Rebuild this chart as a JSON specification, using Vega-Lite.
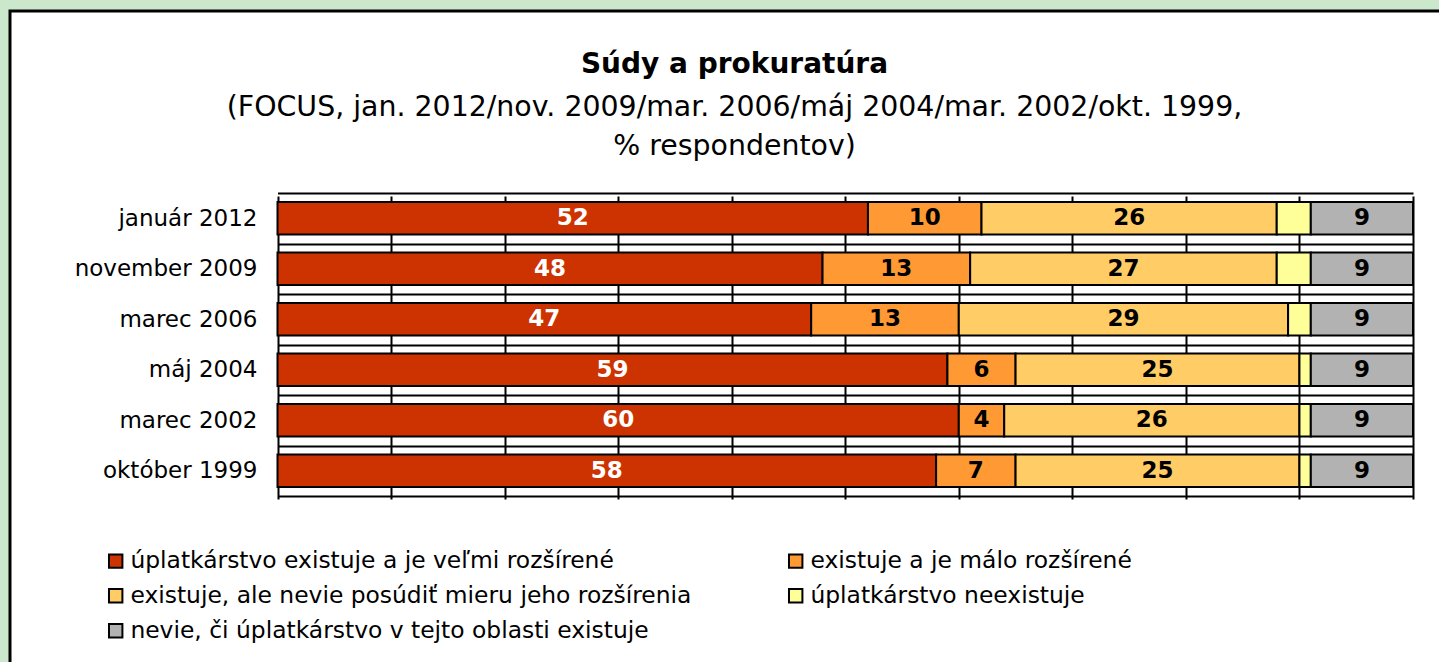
{
  "$schema": "https://vega.github.io/schema/vega-lite/v6.json",
  "width": 1449,
  "height": 670,
  "autosize": {"type": "none"},
  "padding": {"left": 10, "top": 11, "right": -20, "bottom": -19},
  "background": "#CCE8CC",
  "config": {
    "view": {"fill": "white", "stroke": "black", "strokeWidth": 3},
    "font": "DejaVu Sans"
  },
  "title": {
    "text": "Súdy a prokuratúra",
    "subtitle": ["(FOCUS, jan. 2012/nov. 2009/mar. 2006/máj 2004/mar. 2002/okt. 1999,", "% respondentov)"],
    "anchor": "middle",
    "frame": "group",
    "offset": -160,
    "font": "DejaVu Sans",
    "fontSize": 28,
    "fontWeight": "bold",
    "color": "black",
    "subtitleFont": "DejaVu Sans",
    "subtitleFontSize": 28.4,
    "subtitleColor": "black",
    "subtitleLineHeight": 39,
    "subtitlePadding": 15
  },
  "data": {
    "values": [
      {"period": "január 2012", "answer": "úplatkárstvo existuje a je veľmi rozšírené", "k": 1, "value": 52},
      {"period": "január 2012", "answer": "existuje a je málo rozšírené", "k": 2, "value": 10},
      {"period": "január 2012", "answer": "existuje, ale nevie posúdiť mieru jeho rozšírenia", "k": 3, "value": 26},
      {"period": "január 2012", "answer": "úplatkárstvo neexistuje", "k": 4, "value": 3},
      {"period": "január 2012", "answer": "nevie, či úplatkárstvo v tejto oblasti existuje", "k": 5, "value": 9},
      {"period": "november 2009", "answer": "úplatkárstvo existuje a je veľmi rozšírené", "k": 1, "value": 48},
      {"period": "november 2009", "answer": "existuje a je málo rozšírené", "k": 2, "value": 13},
      {"period": "november 2009", "answer": "existuje, ale nevie posúdiť mieru jeho rozšírenia", "k": 3, "value": 27},
      {"period": "november 2009", "answer": "úplatkárstvo neexistuje", "k": 4, "value": 3},
      {"period": "november 2009", "answer": "nevie, či úplatkárstvo v tejto oblasti existuje", "k": 5, "value": 9},
      {"period": "marec 2006", "answer": "úplatkárstvo existuje a je veľmi rozšírené", "k": 1, "value": 47},
      {"period": "marec 2006", "answer": "existuje a je málo rozšírené", "k": 2, "value": 13},
      {"period": "marec 2006", "answer": "existuje, ale nevie posúdiť mieru jeho rozšírenia", "k": 3, "value": 29},
      {"period": "marec 2006", "answer": "úplatkárstvo neexistuje", "k": 4, "value": 2},
      {"period": "marec 2006", "answer": "nevie, či úplatkárstvo v tejto oblasti existuje", "k": 5, "value": 9},
      {"period": "máj 2004", "answer": "úplatkárstvo existuje a je veľmi rozšírené", "k": 1, "value": 59},
      {"period": "máj 2004", "answer": "existuje a je málo rozšírené", "k": 2, "value": 6},
      {"period": "máj 2004", "answer": "existuje, ale nevie posúdiť mieru jeho rozšírenia", "k": 3, "value": 25},
      {"period": "máj 2004", "answer": "úplatkárstvo neexistuje", "k": 4, "value": 1},
      {"period": "máj 2004", "answer": "nevie, či úplatkárstvo v tejto oblasti existuje", "k": 5, "value": 9},
      {"period": "marec 2002", "answer": "úplatkárstvo existuje a je veľmi rozšírené", "k": 1, "value": 60},
      {"period": "marec 2002", "answer": "existuje a je málo rozšírené", "k": 2, "value": 4},
      {"period": "marec 2002", "answer": "existuje, ale nevie posúdiť mieru jeho rozšírenia", "k": 3, "value": 26},
      {"period": "marec 2002", "answer": "úplatkárstvo neexistuje", "k": 4, "value": 1},
      {"period": "marec 2002", "answer": "nevie, či úplatkárstvo v tejto oblasti existuje", "k": 5, "value": 9},
      {"period": "október 1999", "answer": "úplatkárstvo existuje a je veľmi rozšírené", "k": 1, "value": 58},
      {"period": "október 1999", "answer": "existuje a je málo rozšírené", "k": 2, "value": 7},
      {"period": "október 1999", "answer": "existuje, ale nevie posúdiť mieru jeho rozšírenia", "k": 3, "value": 25},
      {"period": "október 1999", "answer": "úplatkárstvo neexistuje", "k": 4, "value": 1},
      {"period": "október 1999", "answer": "nevie, či úplatkárstvo v tejto oblasti existuje", "k": 5, "value": 9}
    ]
  },
  "layer": [
    {
      "mark": {"type": "bar", "height": {"band": 0.64}, "stroke": "black", "strokeWidth": 2},
      "encoding": {
        "y": {
          "field": "period", "type": "nominal", "sort": null,
          "scale": {"range": [182, 485], "paddingInner": 0, "paddingOuter": 0},
          "axis": {
            "orient": "left", "offset": -247, "labelPadding": 0, "ticks": false, "domain": false,
            "grid": true, "tickBand": "extent", "gridColor": "black", "gridWidth": 2, "gridOpacity": 1,
            "labelFontSize": 23, "labelFont": "DejaVu Sans", "labelColor": "black", "labelLimit": 0, "title": null
          }
        },
        "x": {
          "field": "value", "type": "quantitative", "stack": "zero",
          "scale": {"domain": [0, 100], "range": [267.5, 1403], "nice": false},
          "axis": {
            "values": [0, 10, 20, 30, 40, 50, 60, 70, 80, 90, 100],
            "labels": false, "ticks": false, "domain": false, "grid": true,
            "gridColor": "black", "gridWidth": 2, "gridOpacity": 1, "title": null
          }
        },
        "color": {
          "field": "answer", "type": "nominal",
          "scale": {
            "domain": [
              "úplatkárstvo existuje a je veľmi rozšírené",
              "existuje a je málo rozšírené",
              "existuje, ale nevie posúdiť mieru jeho rozšírenia",
              "úplatkárstvo neexistuje",
              "nevie, či úplatkárstvo v tejto oblasti existuje"
            ],
            "range": ["#CC3300", "#FF9933", "#FFCC66", "#FFFF99", "#B2B2B2"]
          },
          "legend": {
            "orient": "none", "legendX": 94, "legendY": 538, "columns": 2, "direction": "horizontal",
            "columnPadding": 92, "rowPadding": 10, "symbolType": "square", "symbolSize": 180,
            "symbolStrokeColor": "black", "symbolStrokeWidth": 2, "symbolOpacity": 1,
            "labelFontSize": 23.4, "labelFont": "DejaVu Sans", "labelColor": "black", "labelLimit": 0,
            "labelOffset": 3, "title": null
          }
        },
        "order": {"field": "k", "type": "quantitative"}
      }
    },
    {
      "mark": {"type": "text", "fontSize": 23, "fontWeight": "bold", "font": "DejaVu Sans", "baseline": "middle", "align": "center"},
      "encoding": {
        "y": {"field": "period", "type": "nominal", "sort": null},
        "x": {"field": "value", "type": "quantitative", "stack": "zero", "bandPosition": 0.5},
        "detail": {"field": "answer", "type": "nominal"},
        "order": {"field": "k", "type": "quantitative"},
        "text": {"field": "value", "type": "quantitative"},
        "color": {"condition": {"test": "datum.k === 1", "value": "white"}, "value": "black"},
        "opacity": {"condition": {"test": "datum.value < 4", "value": 0}, "value": 1}
      }
    }
  ]
}
